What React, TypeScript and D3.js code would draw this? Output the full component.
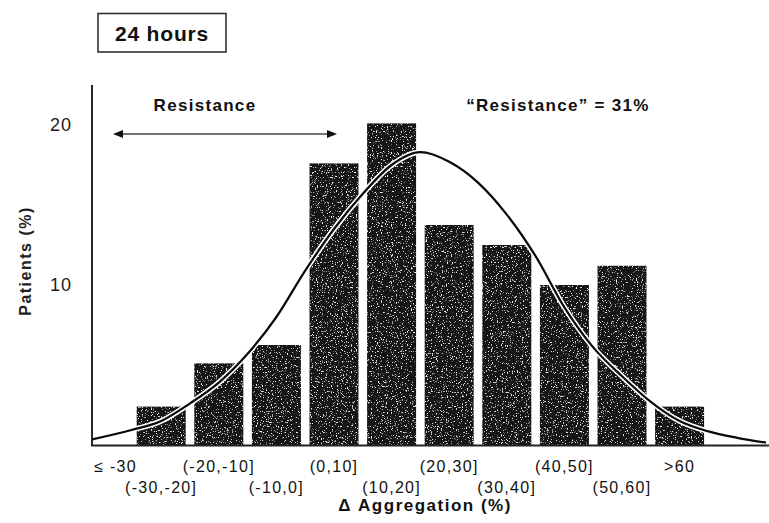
import * as d3 from "d3";
import { useEffect, useRef } from "react";

// categories of Δ aggregation, bar heights (% of patients)
const categories = [
  "≤ -30",
  "(-30,-20]",
  "(-20,-10]",
  "(-10,0]",
  "(0,10]",
  "(10,20]",
  "(20,30]",
  "(30,40]",
  "(40,50]",
  "(50,60]",
  ">60",
];
const patientsPct = [0, 2.4, 5.1, 6.25, 17.6, 20.1, 13.75, 12.5, 10.0, 11.2, 2.4];

// fitted curve (x in Δ aggregation units, y in %)
const curveX = [-37, -30, -25, -20, -15, -10, -5, 0, 5, 10, 15, 20, 25, 30, 35, 40, 45, 50, 55, 60, 65, 70, 75, 80];
const curveY = [0.35, 0.95, 1.5, 2.6, 3.9, 5.7, 8.0, 10.9, 13.5, 15.7, 17.5, 18.3, 17.7, 16.4, 14.4, 11.8, 8.6, 6.1, 4.3, 2.7, 1.5, 0.85, 0.45, 0.15];

const yTicks = [10, 20];

const FONT = "'Liberation Sans', Arial, Helvetica, sans-serif";

export default function App() {
  const ref = useRef<SVGSVGElement>(null);

  useEffect(() => {
    const svg = d3.select(ref.current);
    svg.selectAll("*").remove();

    const x = d3
      .scaleBand<string>()
      .domain(categories)
      .range([74.8, 708.4])
      .paddingInner(0.15)
      .paddingOuter(0.075);
    // linear scale matching bar centres: ≤-30 -> -35, >60 -> 65
    const xl = d3
      .scaleLinear()
      .domain([-35, 65])
      .range([x(categories[0])! + x.bandwidth() / 2, x(categories[10])! + x.bandwidth() / 2]);
    const y = d3.scaleLinear().domain([0, 22.5]).range([445, 85]);

    const defs = svg.append("defs");
    const f = defs.append("filter").attr("id", "speckle").attr("x", 0).attr("y", 0).attr("width", 1).attr("height", 1);
    f.append("feTurbulence")
      .attr("type", "fractalNoise")
      .attr("baseFrequency", 0.8)
      .attr("numOctaves", 2)
      .attr("seed", 3)
      .attr("result", "noise");
    f.append("feColorMatrix")
      .attr("in", "noise")
      .attr("type", "matrix")
      .attr("values", "0 0 0 0 0.85  0 0 0 0 0.85  0 0 0 0 0.85  9 0 0 0 -5.6")
      .attr("result", "spots");
    f.append("feComposite").attr("in", "spots").attr("in2", "SourceGraphic").attr("operator", "in").attr("result", "clip");
    const merge = f.append("feMerge");
    merge.append("feMergeNode").attr("in", "SourceGraphic");
    merge.append("feMergeNode").attr("in", "clip");

    const marker = (id: string, path: string) =>
      defs
        .append("marker")
        .attr("id", id)
        .attr("viewBox", "0 0 10 10")
        .attr("refX", 5)
        .attr("refY", 5)
        .attr("markerWidth", 10)
        .attr("markerHeight", 10)
        .attr("markerUnits", "userSpaceOnUse")
        .attr("orient", "auto")
        .append("path")
        .attr("d", path)
        .attr("fill", "#111");
    marker("arrEnd", "M0,1 L10,5 L0,9 Z");
    marker("arrStart", "M10,1 L0,5 L10,9 Z");

    // title box
    svg
      .append("rect")
      .attr("x", 98)
      .attr("y", 13.5)
      .attr("width", 128)
      .attr("height", 38.5)
      .attr("fill", "white")
      .attr("stroke", "#333")
      .attr("stroke-width", 1.6);
    svg
      .append("text")
      .attr("x", 162)
      .attr("y", 33)
      .attr("text-anchor", "middle")
      .attr("dominant-baseline", "central")
      .attr("font-family", FONT)
      .attr("font-size", 21)
      .attr("font-weight", "bold")
      .attr("letter-spacing", 0.8)
      .attr("fill", "#111")
      .text("24 hours");

    // bars
    svg
      .append("g")
      .selectAll("rect")
      .data(categories.map((c, i) => ({ c, v: patientsPct[i] })).filter(d => d.v > 0))
      .enter()
      .append("rect")
      .attr("x", d => x(d.c)!)
      .attr("y", d => y(d.v))
      .attr("width", x.bandwidth())
      .attr("height", d => y(0) - y(d.v))
      .attr("fill", "#141414")
      .attr("filter", "url(#speckle)");

    // curve with white halo
    const line = d3
      .line<number>()
      .x((d, i) => xl(curveX[i]))
      .y(d => y(d))
      .curve(d3.curveMonotoneX);
    svg
      .append("path")
      .attr("d", line(curveY))
      .attr("fill", "none")
      .attr("stroke", "white")
      .attr("stroke-width", 5.5);
    svg
      .append("path")
      .attr("d", line(curveY))
      .attr("fill", "none")
      .attr("stroke", "#0a0a0a")
      .attr("stroke-width", 2.2);

    // axes
    svg
      .append("line")
      .attr("x1", 92)
      .attr("x2", 92)
      .attr("y1", 85)
      .attr("y2", y(0) + 1)
      .attr("stroke", "#111")
      .attr("stroke-width", 1.8);
    svg
      .append("line")
      .attr("x1", 91)
      .attr("x2", 769)
      .attr("y1", y(0) + 0.5)
      .attr("y2", y(0) + 0.5)
      .attr("stroke", "#222")
      .attr("stroke-width", 2);

    svg
      .append("g")
      .selectAll("text")
      .data(yTicks)
      .enter()
      .append("text")
      .attr("x", 72)
      .attr("y", d => y(d))
      .attr("text-anchor", "end")
      .attr("dominant-baseline", "central")
      .attr("font-family", FONT)
      .attr("font-size", 18)
      .attr("letter-spacing", 1)
      .attr("fill", "#222")
      .text(d => d);

    svg
      .append("g")
      .selectAll("text")
      .data(categories)
      .enter()
      .append("text")
      .attr("x", (d, i) => x(d)! + x.bandwidth() / 2 + (i === 0 ? 12 : 0))
      .attr("y", (d, i) => (i % 2 === 0 ? 466 : 487))
      .attr("text-anchor", "middle")
      .attr("dominant-baseline", "central")
      .attr("font-family", FONT)
      .attr("font-size", 16)
      .attr("letter-spacing", 1.3)
      .attr("fill", "#111")
      .text(d => d);

    svg
      .append("text")
      .attr("x", 425)
      .attr("y", 505)
      .attr("text-anchor", "middle")
      .attr("dominant-baseline", "central")
      .attr("font-family", FONT)
      .attr("font-size", 17)
      .attr("font-weight", "bold")
      .attr("letter-spacing", 1.5)
      .attr("fill", "#111")
      .text("Δ Aggregation (%)");

    svg
      .append("text")
      .attr("transform", "translate(25,261) rotate(-90)")
      .attr("text-anchor", "middle")
      .attr("dominant-baseline", "central")
      .attr("font-family", FONT)
      .attr("font-size", 16)
      .attr("font-weight", "bold")
      .attr("letter-spacing", 1.5)
      .attr("fill", "#222")
      .text("Patients (%)");

    // annotations
    svg
      .append("text")
      .attr("x", 205)
      .attr("y", 105.5)
      .attr("text-anchor", "middle")
      .attr("dominant-baseline", "central")
      .attr("font-family", FONT)
      .attr("font-size", 17)
      .attr("font-weight", "bold")
      .attr("letter-spacing", 1.3)
      .attr("fill", "#111")
      .text("Resistance");
    svg
      .append("line")
      .attr("x1", 118)
      .attr("x2", 332)
      .attr("y1", 134)
      .attr("y2", 134)
      .attr("stroke", "#444")
      .attr("stroke-width", 1.3)
      .attr("marker-start", "url(#arrStart)")
      .attr("marker-end", "url(#arrEnd)");
    svg
      .append("text")
      .attr("x", 558)
      .attr("y", 105)
      .attr("text-anchor", "middle")
      .attr("dominant-baseline", "central")
      .attr("font-family", FONT)
      .attr("font-size", 17)
      .attr("font-weight", "bold")
      .attr("letter-spacing", 1.3)
      .attr("fill", "#111")
      .text("“Resistance” = 31%");
  }, []);

  return (
    <svg
      ref={ref}
      width={769}
      height={523}
      style={{ position: "absolute", left: 0, top: 0, background: "white" }}
    />
  );
}
